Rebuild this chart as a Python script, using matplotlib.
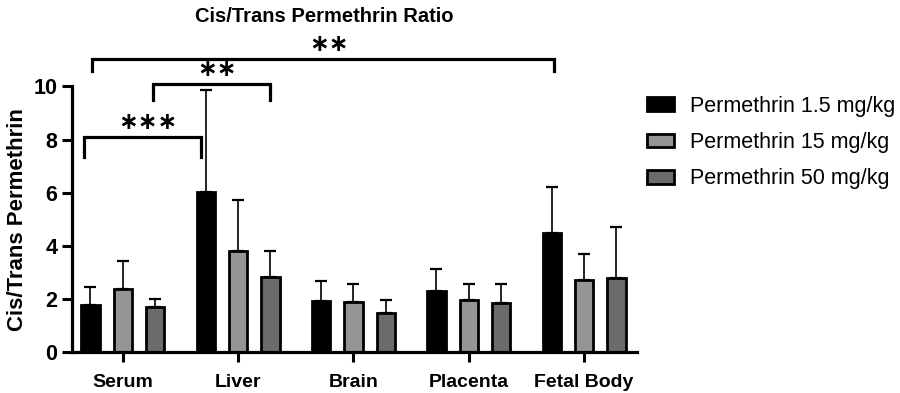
import matplotlib.pyplot as plt
import numpy as np

plt.rcParams['font.family'] = ['Liberation Sans', 'DejaVu Sans']

tissues = ['Serum', 'Liver', 'Brain', 'Placenta', 'Fetal Body']
doses = ['Permethrin 1.5 mg/kg', 'Permethrin 15 mg/kg', 'Permethrin 50 mg/kg']

low = [1.77, 6.03, 1.92, 2.29, 4.47]
low_err = [0.66, 3.85, 0.76, 0.83, 1.76]
mid = [2.37, 3.81, 1.88, 1.97, 2.72]
mid_err = [1.05, 1.90, 0.70, 0.59, 0.96]
high = [1.70, 2.83, 1.47, 1.84, 2.79]
high_err = [0.28, 0.98, 0.50, 0.71, 1.91]

# significance brackets: x start, x end, bar height, leg bottom, label
brackets = [
  (-0.34, 0.68, 8.1, 7.35, '\u2217\u2217\u2217'),
  (0.26, 1.28, 10.1, 9.5, '\u2217\u2217'),
  (-0.27, 3.74, 11.05, 10.6, '\u2217\u2217'),
]

colors = ['#000000', '#959595', '#6b6b6b']
series = [(low, low_err), (mid, mid_err), (high, high_err)]

fig = plt.figure(figsize=(9, 3.93), dpi=100)
ax = fig.add_axes([0.08, 0.1043, 0.628, 0.6756])

x = np.arange(len(tissues))
offsets = [-0.28, 0.0, 0.28]
width = 0.16

for (vals, errs), off, c, lab in zip(series, offsets, colors, doses):
  ax.errorbar(x + off, vals, yerr=[np.zeros(len(vals)), errs], fmt='none',
              ecolor='black', elinewidth=1.2, capsize=4, capthick=1.6, zorder=1)
  ax.bar(x + off, vals, width=width, color=c, edgecolor='black',
         linewidth=2, label=lab, zorder=2)

for x0, x1, yb, yl, txt in brackets:
  ax.plot([x0, x0, x1, x1], [yl, yb, yb, yl], color='black', lw=2.3,
          clip_on=False, solid_joinstyle='miter')
  ax.text((x0 + x1) / 2 + 0.05, yb + 0.55, txt, ha='center', va='center',
          fontsize=17, fontweight='bold', family='DejaVu Sans', clip_on=False)

ax.set_xlim(-0.44, 4.46)
ax.set_ylim(0, 10)
ax.set_yticks([0, 2, 4, 6, 8, 10])
ax.set_xticks(x)
ax.set_xticklabels(tissues)
for lbl in ax.get_xticklabels():
  lbl.set_fontweight('bold')
  lbl.set_fontsize(14)
for lbl in ax.get_yticklabels():
  lbl.set_fontweight('bold')
  lbl.set_fontsize(15.5)
ax.tick_params(axis='both', width=2.2, length=7, direction='out')
ax.tick_params(axis='x', pad=9)
ax.spines['top'].set_visible(False)
ax.spines['right'].set_visible(False)
ax.spines['left'].set_linewidth(2.3)
ax.spines['bottom'].set_linewidth(2.3)
ax.set_ylabel('Cis/Trans Permethrin', fontsize=16, fontweight='bold', labelpad=4)

fig.text(0.36, 0.958, 'Cis/Trans Permethrin Ratio', ha='center', va='center',
         fontsize=14.5, fontweight='bold')

fig.legend(loc='upper left', bbox_to_anchor=(0.697, 0.805), frameon=False,
           fontsize=15.5, handlelength=1.25, handleheight=0.62,
           handletextpad=0.75, labelspacing=0.7)

fig.savefig('out.png', dpi=100)
